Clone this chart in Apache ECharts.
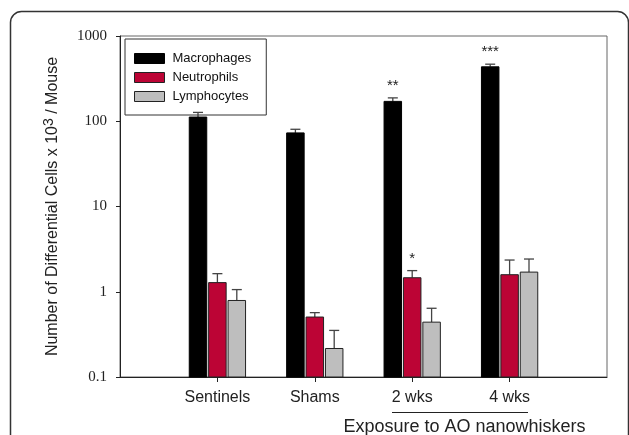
<!DOCTYPE html>
<html><head><meta charset="utf-8">
<script src="https://cdn.jsdelivr.net/npm/echarts@6/dist/echarts.min.js"></script>
<style>html,body{margin:0;padding:0;background:#fff}#c{width:629px;height:435px}</style>
</head><body><div id="c"></div>
<script>
const categories = ['', 'Sentinels', 'Shams', '2 wks', '4 wks', ''];
const seriesNames = ['Macrophages', 'Neutrophils', 'Lymphocytes'];
const macrophages = ['-', 112, 73, 171, 435, '-'];
const neutrophils = ['-', 1.28, 0.505, 1.46, 1.585, '-'];
const lymphocytes = ['-', 0.79, 0.216, 0.44, 1.70, '-'];
const macrophagesErr = [0, 15, 7.5, 17, 32, 0];
const neutrophilsErr = [0, 0.35, 0.064, 0.31, 0.77, 0];
const lymphocytesErr = [0, 0.27, 0.136, 0.2, 0.72, 0];
const macrophagesSig = ['', '', '', '**', '***', ''];
const neutrophilsSig = ['', '', '', '*', '', ''];
const lymphocytesSig = ['', '', '', '', '', ''];
const yTicks = [0.1, 1, 10, 100, 1000];

const colors = ['#000000', '#BC0435', '#BEBEBE'];
const borders = ['#000000', '#222222', '#222222'];
const BAR_W = 17.5;
const STEP = 19.4;
const Y_MIN = yTicks[0];

function barSeries(idx, vals, errs, sigs) {
  const data = [];
  vals.forEach((v, i) => { if (v !== '-') data.push([i, v, v + errs[i], sigs[i]]); });
  return {
    type: 'custom',
    name: seriesNames[idx],
    z: 2,
    silent: true,
    itemStyle: { color: colors[idx], borderColor: borders[idx], borderWidth: 1 },
    encode: { x: 0, y: [1, 2] },
    data: data,
    renderItem: function (params, api) {
      const i = api.value(0);
      const top = api.coord([i, api.value(1)]);
      const base = api.coord([i, Y_MIN]);
      const errTop = api.coord([i, api.value(2)]);
      const cx = top[0] + (idx - 1) * STEP;
      const sig = data[params.dataIndex][3];
      const children = [
        { type: 'line', shape: { x1: cx, y1: top[1], x2: cx, y2: errTop[1] }, style: { stroke: '#444', lineWidth: 1.3 } },
        { type: 'line', shape: { x1: cx - 5, y1: errTop[1], x2: cx + 5, y2: errTop[1] }, style: { stroke: '#444', lineWidth: 1.3 } },
        { type: 'rect', shape: { x: cx - BAR_W / 2, y: top[1], width: BAR_W, height: base[1] - top[1] },
          style: { fill: colors[idx], stroke: borders[idx], lineWidth: 1 } }
      ];
      if (sig) {
        children.push({ type: 'text', style: { text: sig, x: cx, y: errTop[1] - 12, textAlign: 'center', textVerticalAlign: 'middle', font: '15px "Liberation Sans", Arial, sans-serif', fill: '#222' } });
      }
      return { type: 'group', children: children };
    }
  };
}

const chart = echarts.init(document.getElementById('c'), null, { renderer: 'canvas' });
const option = {
  animation: false,
  backgroundColor: '#fff',
  grid: { left: 120, right: 22, top: 36, bottom: 58, show: true, borderColor: '#666', borderWidth: 1 },
  legend: {
    data: seriesNames.map((n, k) => ({ name: n, itemStyle: { color: colors[k], borderColor: borders[k], borderWidth: 1 } })),
    orient: 'vertical',
    left: 125, top: 39,
    padding: [13, 15, 12, 9],
    borderColor: '#333', borderWidth: 1,
    itemWidth: 30, itemHeight: 10, itemGap: 6,
    icon: 'rect',
    textStyle: { fontFamily: '"Liberation Sans", Arial, sans-serif', fontSize: 13, color: '#111', padding: [0, 0, 0, 3] }
  },
  xAxis: {
    type: 'category',
    data: categories,
    boundaryGap: false,
    axisLine: { lineStyle: { color: '#222', width: 1 } },
    axisTick: { length: 5, lineStyle: { color: '#222' }, interval: function (index, value) { return value !== ''; } },
    axisLabel: { fontFamily: '"Liberation Sans", Arial, sans-serif', fontSize: 16, color: '#222', margin: 13, interval: 0 },
    splitLine: { show: false }
  },
  yAxis: {
    type: 'log',
    logBase: 10,
    min: yTicks[0], max: yTicks[yTicks.length - 1],
    axisLine: { show: true, lineStyle: { color: '#222', width: 1 } },
    axisTick: { show: true, length: 4, lineStyle: { color: '#222' } },
    minorTick: { show: false },
    splitLine: { show: false },
    axisLabel: { fontFamily: '"Liberation Serif", "Times New Roman", serif', fontSize: 15, color: '#222', margin: 13,
      formatter: function (v) { const t = yTicks.find(x => Math.abs(x - v) / x < 1e-6); return t !== undefined ? String(t) : ''; } },
    name: 'Number of Differential Cells x 10{sup|3} / Mouse',
    nameLocation: 'middle',
    nameGap: 56,
    nameTextStyle: {
      fontFamily: '"Liberation Sans", Arial, sans-serif', fontSize: 16, color: '#222', lineHeight: 22,
      rich: { sup: { fontSize: 14, verticalAlign: 'top', lineHeight: 22, fontFamily: '"Liberation Sans", Arial, sans-serif', color: '#222' } }
    }
  },
  series: [
    barSeries(0, macrophages, macrophagesErr, macrophagesSig),
    barSeries(1, neutrophils, neutrophilsErr, neutrophilsSig),
    barSeries(2, lymphocytes, lymphocytesErr, lymphocytesSig)
  ],
  graphic: [
    { type: 'rect', shape: { x: 10.5, y: 11.5, width: 618, height: 460, r: 11 }, style: { fill: 'none', stroke: '#333', lineWidth: 1.5 }, silent: true, z: -1 },
    { type: 'line', shape: { x1: 392, y1: 412.5, x2: 528, y2: 412.5 }, style: { stroke: '#222', lineWidth: 1 }, silent: true },
    { type: 'text', style: { text: 'Exposure to AO nanowhiskers', x: 464.5, y: 427, textAlign: 'center', textVerticalAlign: 'middle', font: '18px "Liberation Sans", Arial, sans-serif', fill: '#222' }, silent: true }
  ]
};
chart.setOption(option);
</script>
</body></html>
